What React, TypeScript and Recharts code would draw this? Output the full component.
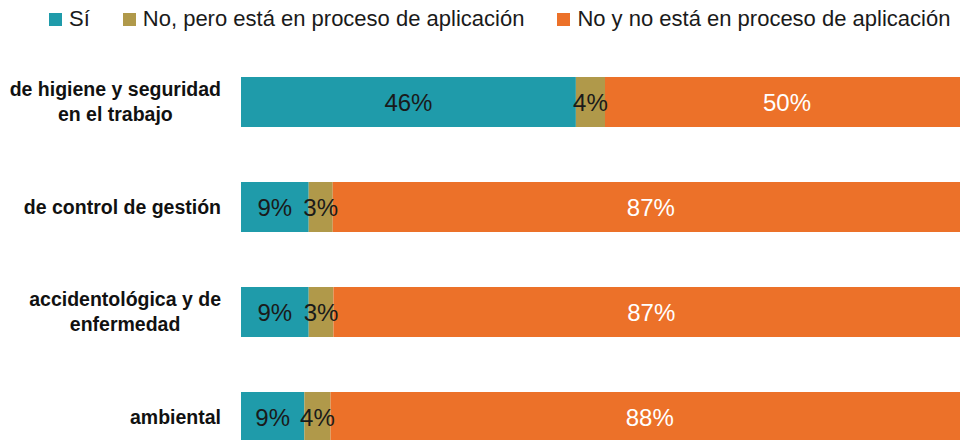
import { Bar, BarChart, LabelList, XAxis, YAxis } from 'recharts'

const categories = [
  'de higiene y seguridad\nen el trabajo',
  'de control de gestión',
  'accidentológica y de\nenfermedad',
  'ambiental',
]
const si = [46, 9.3, 9.3, 8.7]
const enProceso = [4, 3.3, 3.4, 3.6]
const noAplica = [50, 87.4, 87.3, 87.7]

const series = [
  { key: 'si', name: 'Sí', color: '#1F9BAA', text: '#1a1a1a' },
  { key: 'enProceso', name: 'No, pero está en proceso de aplicación', color: '#B0994A', text: '#1a1a1a' },
  { key: 'noAplica', name: 'No y no está en proceso de aplicación', color: '#EC7129', text: '#ffffff' },
]

const data = categories.map((c, i) => ({
  cat: c,
  si: si[i],
  enProceso: enProceso[i],
  noAplica: noAplica[i],
}))

const TICK_FONT = 'bold 19.5px "Liberation Sans"'

function measure(s: string) {
  const ctx = document.createElement('canvas').getContext('2d')
  if (!ctx) return s.length * 10
  ctx.font = TICK_FONT
  return ctx.measureText(s).width
}

function CategoryTick({ x, y, payload }: any) {
  const lines = String(payload.value).split('\n')
  const right = x - 12
  const w = Math.max(...lines.map(measure))
  const cx = right - w / 2
  return (
    <g>
      {lines.map((l, i) => (
        <text
          key={i}
          x={cx}
          y={y + 7 + (i - (lines.length - 1) / 2) * 25.5}
          textAnchor="middle"
          fill="#111"
          style={{ font: TICK_FONT }}
        >
          {l}
        </text>
      ))}
    </g>
  )
}

function ChartLegend() {
  return (
    <div
      style={{
        position: 'absolute',
        left: 49,
        top: 6,
        display: 'flex',
        gap: 33,
        fontFamily: '"Liberation Sans", Arial, sans-serif',
        fontSize: 22,
        lineHeight: '26px',
        color: '#1a1a1a',
        whiteSpace: 'nowrap',
      }}
    >
      {series.map((s) => (
        <div key={s.key} style={{ display: 'flex', alignItems: 'center', gap: 7 }}>
          <span style={{ width: 13, height: 13, background: s.color, display: 'inline-block' }} />
          <span>{s.name}</span>
        </div>
      ))}
    </div>
  )
}

export default function App() {
  return (
    <div style={{ position: 'absolute', left: 0, top: 0, width: 960, height: 440, overflow: 'hidden', background: '#fff' }}>
      <ChartLegend />
      <BarChart
        width={1000}
        height={470}
        data={data}
        layout="vertical"
        barSize={50}
        margin={{ top: 49, right: 31, bottom: 1, left: 0 }}
        style={{ fontFamily: '"Liberation Sans", Arial, sans-serif' }}
      >
        <XAxis type="number" domain={[0, 100]} allowDataOverflow hide />
        <YAxis
          type="category"
          dataKey="cat"
          width={241}
          axisLine={false}
          tickLine={false}
          interval={0}
          tick={<CategoryTick />}
        />
        {series.map((s) => (
          <Bar key={s.key} dataKey={s.key} name={s.name} stackId="a" fill={s.color} isAnimationActive={false}>
            <LabelList
              dataKey={s.key}
              position="center"
              fill={s.text}
              fontSize={24}
              formatter={(v: any) => `${Math.round(Number(v))}%`}
            />
          </Bar>
        ))}
      </BarChart>
    </div>
  )
}
